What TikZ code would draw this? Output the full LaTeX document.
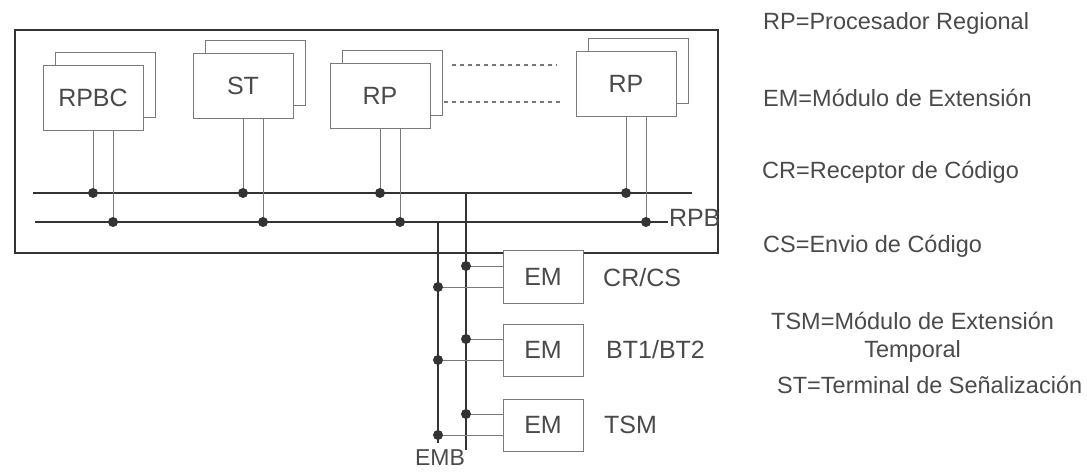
\documentclass[tikz,border=0pt]{standalone}
\usepackage{fontspec}
\setmainfont{Liberation Sans}
\usetikzlibrary{calc,shadows}
\definecolor{linea}{HTML}{333333}
\definecolor{caja}{HTML}{7A7A7A}
\definecolor{texto}{HTML}{4A4A4A}
\tikzset{
  pont/.style={circle,fill=linea,inner sep=0pt,minimum size=10pt},
  tarj/.style={draw=caja,fill=white,line width=1pt,minimum width=100pt,minimum height=65pt,
    text=texto,font=\fontsize{25}{30}\selectfont,
    copy shadow={shadow xshift=12pt,shadow yshift=13pt,draw=caja,fill=white,line width=1pt}},
  emcaja/.style={draw=caja,fill=white,line width=1pt,minimum width=80pt,minimum height=52pt,
    text=texto,font=\fontsize{25}{30}\selectfont},
  bus/.style={draw=linea,line width=2pt},
  hilo/.style={draw=caja,line width=1pt},
  etq/.style={anchor=west,text=texto,font=\fontsize{25}{30}\selectfont,inner sep=0pt},
  ley/.style={anchor=west,text=texto,font=\fontsize{23.5}{28}\selectfont,inner sep=0pt},
  punt/.style={draw=caja,line width=1.2pt,dash pattern=on 4pt off 4pt},
}
\begin{document}
\begin{tikzpicture}[x=1pt,y=-1pt]
  \useasboundingbox (0,0) rectangle (1087,473);
  % marco
  \draw[line width=2.2pt,draw=linea] (15,30) rectangle (718,253);
  % tarjetas
  \node[tarj] (rpbc) at (93,98) {RPBC};
  \node[tarj] (st) at (243,86) {ST};
  \node[tarj] (rp1) at (380,96) {RP};
  \node[tarj] (rp2) at (626,84) {RP};
  \draw[punt] ([shift={(21,-31)}]rp1.east) -- ([shift={(-19,-19)}]rp2.west);
  \draw[punt] ([shift={(13,6)}]rp1.east) -- ([shift={(-14,18)}]rp2.west);
  % buses RPB
  \coordinate (busA) at (0,193);
  \coordinate (busB) at (0,222);
  \draw[bus] (33,193) -- (692,193);
  \draw[bus] (35,222) -- (668,222) node[etq,yshift=4pt] (rpb) {RPB};
  \foreach \t in {rpbc,st,rp1,rp2}{
    \draw[hilo] (\t.south) -- (\t.south |- busA) node[pont] {};
    \draw[hilo] ([xshift=20pt]\t.south) -- ([xshift=20pt]\t.south |- busB) node[pont] {};
  }
  % modulos de extension
  \node[emcaja] (em1) at (543,277) {EM};
  \node[emcaja] (em2) at (543,350) {EM};
  \node[emcaja] (em3) at (543,425) {EM};
  \node[etq] (crcs) at (603,278) {CR/CS};
  \node[etq] (bt) at (606,350) {BT1/BT2};
  \node[etq] (tsm) at (604,425) {TSM};
  % bus EMB
  \coordinate (embI) at (438,443);
  \coordinate (embD) at (466,450);
  \draw[bus] (embI |- busB) -- (embI);
  \draw[bus] (embD |- busA) -- (embD);
  \node (emb) at (440,458) [text=texto,font=\fontsize{23}{28}\selectfont,inner sep=0pt] {EMB};
  \foreach \m in {em1,em2,em3}{
    \draw[hilo] ([yshift=11pt]\m.west) -- ([yshift=11pt]\m.west -| embD) node[pont] {};
    \draw[hilo] ([yshift=-10pt]\m.west) -- ([yshift=-10pt]\m.west -| embI) node[pont] {};
  }
  % leyenda
  \node[ley] (l1) at (763,23) {RP=Procesador Regional};
  \node[ley] (l2) at (763,98) {EM=Módulo de Extensión};
  \node[ley] (l3) at (762,172) {CR=Receptor de Código};
  \node[ley] (l4) at (763,246) {CS=Envio de Código};
  \node[ley,anchor=north west,align=center] (l5) at (771,312) {TSM=Módulo de Extensión\\Temporal};
  \node[ley] (l6) at (777,385) {ST=Terminal de Señalización};
\end{tikzpicture}
\end{document}
